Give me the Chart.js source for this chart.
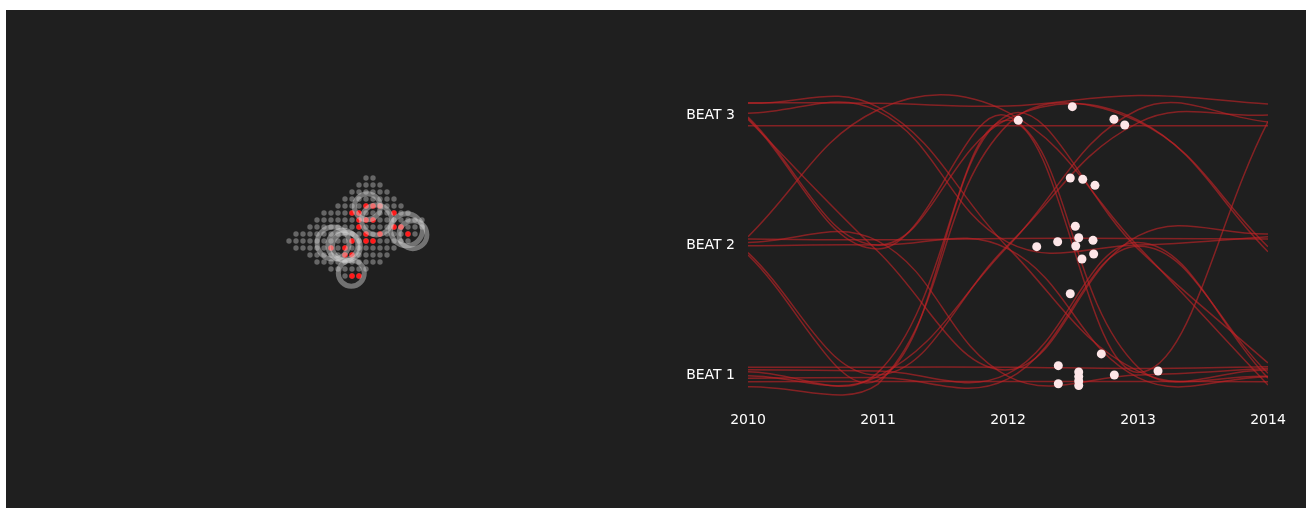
<!DOCTYPE html>
<html>
<head>
<meta charset="utf-8">
<script src="https://cdn.jsdelivr.net/npm/chart.js@4"></script>
<style>
  body { margin: 0; background: #fff; }
  #panel { position: absolute; left: 6px; top: 10px; width: 1300px; height: 498px; background: #1f1f1f; }
  #grid_canvas { position: absolute; left: 248px; top: 133px; }
  #beat_canvas { position: absolute; left: 634px; top: 0px; }
</style>
</head>
<body>
<div id="panel">
  <canvas id="grid_canvas" width="210" height="175"></canvas>
  <canvas id="beat_canvas" width="666" height="498"></canvas>
</div>
<script>
// anos e batidas
const years = [2010, 2011, 2012, 2013, 2014];
const beatTicks = [1, 2, 3];
const beatLabels = ['BEAT 1', 'BEAT 2', 'BEAT 3'];

// cada linha: batida em cada ano (com pequeno deslocamento)
const beatLines = [
    [3.095, 3.09, 3.07, 3.15, 3.085],
    [3.09, 3.06, 1.98, 1.03, 0.99],
    [3.013, 3.03, 2.02, 2.00, 2.064],
    [2.985, 2.00, 2.97, 2.96, 1.948],
    [2.975, 1.97, 2.99, 1.06, 1.038],
    [2.965, 1.95, 1.04, 2.07, 2.085],
    [2.917, 2.917, 2.917, 2.917, 2.917],
    [2.064, 3.04, 3.02, 1.99, 0.923],
    [2.046, 2.04, 2.05, 2.05, 2.046],
    [1.995, 2.00, 1.97, 0.98, 0.987],
    [1.941, 1.00, 2.00, 2.94, 3.00],
    [1.923, 0.96, 3.00, 1.97, 1.092],
    [1.059, 1.06, 1.06, 1.05, 1.064],
    [1.025, 1.02, 2.96, 1.02, 2.95],
    [0.995, 0.99, 1.99, 3.04, 2.946],
    [0.975, 0.98, 0.97, 1.99, 1.013],
    [0.948, 0.95, 0.95, 0.95, 0.948],
    [0.91, 0.93, 2.93, 2.95, 1.987],
    [1.04, 1.03, 1.01, 2.02, 0.976],
    [2.02, 2.03, 0.99, 1.00, 1.05]
];

// posicao atual (pontos brancos)
const dotYears = [2012.495, 2012.079, 2012.815, 2012.898, 2012.479, 2012.575, 2012.669, 2012.518,
    2012.544, 2012.382, 2012.654, 2012.221, 2012.521, 2012.659, 2012.569, 2012.479, 2012.718,
    2012.387, 2013.154, 2012.818, 2012.544, 2012.544, 2012.544, 2012.544, 2012.387];
const dotBeats = [3.064, 2.959, 2.967, 2.923, 2.515, 2.505, 2.459, 2.144,
    2.056, 2.025, 2.036, 1.987, 1.992, 1.931, 1.892, 1.625, 1.162,
    1.072, 1.031, 1.0, 1.023, 0.988, 0.954, 0.919, 0.933];

// grade de pontos da esquerda: inicio e fim de coluna em cada linha
const rowStart = [11, 10, 9, 8, 7, 5, 4, 3, 1, 0, 1, 3, 4, 6, 8];
const rowEnd = [12, 13, 14, 15, 16, 17, 19, 19, 18, 17, 15, 14, 13, 11, 10];
// pontos vermelhos [linha, coluna]
const redCells = [[4, 11], [4, 12], [4, 13], [5, 9], [5, 10], [5, 15], [6, 10], [6, 11], [6, 12],
    [7, 15], [7, 16], [7, 10], [8, 17], [8, 11], [8, 13], [9, 11], [9, 12], [9, 9], [10, 6],
    [10, 8], [11, 8], [11, 9], [14, 9], [14, 10]];
// aneis [coluna, linha, raio]
const rings = [[11.2, 4.1, 13], [12.5, 6.0, 15], [16.8, 7.4, 16], [17.7, 8.1, 14],
    [6.3, 9.3, 16], [7.7, 9.6, 15], [8.2, 9.8, 14], [8.9, 13.6, 13]];

function grafico_grade() {
    const grayPts = [];
    rowStart.forEach(function(s, r) {
        for (let c = s; c <= rowEnd[r]; c++) grayPts.push({x: c, y: r});
    });
    const redPts = redCells.map(function(rc) { return {x: rc[1], y: rc[0]}; });
    const ringPts = rings.map(function(p) { return {x: p[0], y: p[1]}; });

    const ctx = document.getElementById('grid_canvas').getContext('2d');
    new Chart(ctx, {
        type: 'scatter',
        data: {
            datasets: [{
                data: ringPts,
                pointRadius: rings.map(function(p) { return p[2]; }),
                pointBackgroundColor: 'rgba(0,0,0,0)',
                pointBorderColor: 'rgba(215, 215, 215, 0.45)',
                pointBorderWidth: 5,
                order: 0
            }, {
                data: redPts,
                pointRadius: 2.7,
                pointBackgroundColor: '#ff1a1a',
                pointBorderWidth: 0,
                order: 1
            }, {
                data: grayPts,
                pointRadius: 2.7,
                pointBackgroundColor: '#666666',
                pointBorderWidth: 0,
                order: 2
            }]
        },
        options: {
            responsive: false,
            animation: false,
            devicePixelRatio: 1,
            layout: { padding: 0, autoPadding: false },
            plugins: { legend: { display: false }, tooltip: { enabled: false } },
            scales: {
                x: { type: 'linear', min: -5, max: 25, display: false },
                y: { type: 'linear', min: -5, max: 20, reverse: true, display: false }
            }
        }
    });
}

function grafico_batidas() {
    const datasets = beatLines.map(function(vals) {
        return {
            type: 'line',
            data: vals.map(function(v, i) { return {x: years[i], y: v}; }),
            borderColor: 'rgba(195, 36, 38, 0.62)',
            borderWidth: 1.5,
            pointRadius: 0,
            tension: 0.4,
            fill: false,
            order: 2
        };
    });
    datasets.push({
        type: 'scatter',
        data: dotYears.map(function(x, i) { return {x: x, y: dotBeats[i]}; }),
        pointRadius: 4.5,
        pointBackgroundColor: '#fde6e8',
        pointBorderWidth: 0,
        order: 0
    });

    const ctx = document.getElementById('beat_canvas').getContext('2d');
    new Chart(ctx, {
        type: 'line',
        data: { datasets: datasets },
        options: {
            responsive: false,
            animation: false,
            devicePixelRatio: 1,
            layout: { padding: { left: 0, right: 38, top: 72.5, bottom: 70.5 } },
            plugins: { legend: { display: false }, tooltip: { enabled: false } },
            scales: {
                x: {
                    type: 'linear',
                    min: 2010,
                    max: 2014,
                    grid: { display: false, drawTicks: false },
                    border: { display: false },
                    afterFit: function(scale) { scale.height = 30; },
                    afterBuildTicks: function(scale) {
                        scale.ticks = years.map(function(y) { return {value: y}; });
                    },
                    ticks: {
                        color: '#ffffff',
                        padding: 4,
                        font: { family: 'DejaVu Sans', size: 14 },
                        callback: function(value) { return String(value); }
                    }
                },
                y: {
                    type: 'linear',
                    min: 0.75,
                    max: 3.25,
                    grid: { display: false, drawTicks: false },
                    border: { display: false },
                    afterFit: function(scale) { scale.width = 108; },
                    afterBuildTicks: function(scale) {
                        scale.ticks = beatTicks.map(function(b) { return {value: b}; });
                    },
                    ticks: {
                        color: '#ffffff',
                        padding: 13,
                        font: { family: 'DejaVu Sans', size: 14 },
                        callback: function(value) { return beatLabels[beatTicks.indexOf(value)]; }
                    }
                }
            }
        }
    });
}

grafico_grade();
grafico_batidas();
</script>
</body>
</html>
